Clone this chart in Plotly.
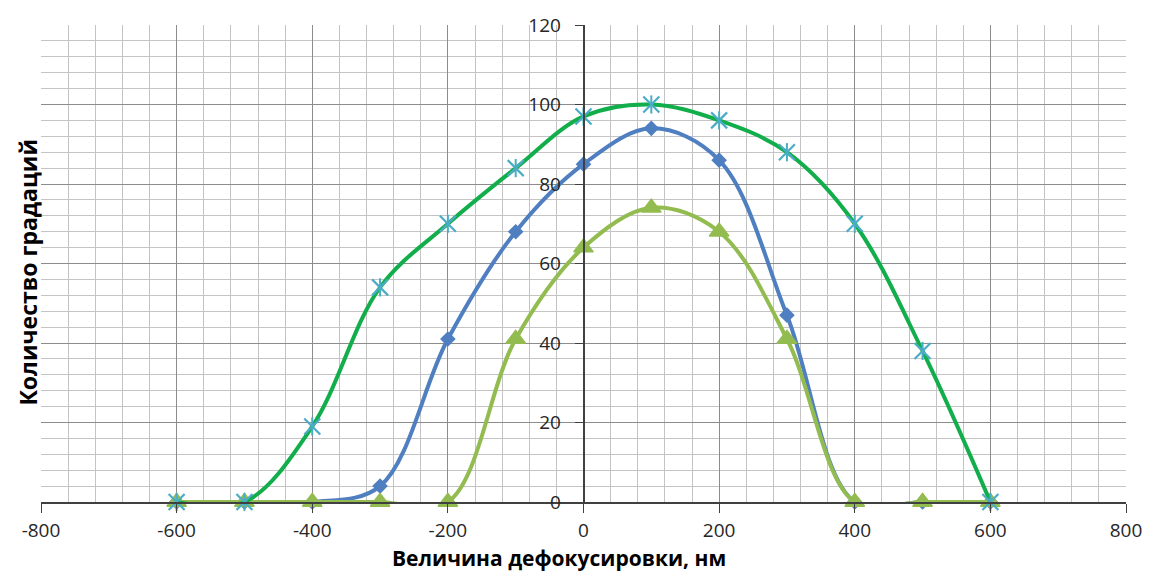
import plotly.graph_objects as go

defocus = [-600, -500, -400, -300, -200, -100, 0, 100, 200, 300, 400, 500, 600]
series_blue = [0, 0, 0, 4, 41, 68, 85, 94, 86, 47, 0, 0, 0]
series_lime = [0, 0, 0, 0, 0, 41, 64, 74, 68, 41, 0, 0, 0]
series_green = [0, 0, 19, 54, 70, 84, 97, 100, 96, 88, 70, 38, 0]

x_ticks = [-800, -600, -400, -200, 0, 200, 400, 600, 800]
y_ticks = [0, 20, 40, 60, 80, 100, 120]

FONT = "Open Sans"
STAR = "#4BACC6"

fig = go.Figure()
fig.add_trace(go.Scatter(
    x=defocus, y=series_blue, mode="lines+markers",
    line=dict(color="#4F7FC0", width=4, shape="spline", smoothing=1.0),
    marker=dict(symbol="diamond", size=12, color="#4F7FC0"),
    cliponaxis=False, showlegend=False))
fig.add_trace(go.Scatter(
    x=defocus, y=series_lime, mode="lines+markers",
    line=dict(color="#93BC50", width=4, shape="spline", smoothing=1.0),
    marker=dict(symbol="triangle-up", size=17, color="#93BC50",
                line=dict(color="#93BC50", width=1.5)),
    cliponaxis=False, showlegend=False))
fig.add_trace(go.Scatter(
    x=defocus, y=series_green, mode="lines+markers",
    line=dict(color="#12AE4B", width=4, shape="spline", smoothing=1.0),
    marker=dict(symbol="x-thin-open", size=16, color=STAR, line=dict(color=STAR, width=2.2)),
    cliponaxis=False, showlegend=False))
fig.add_trace(go.Scatter(
    x=defocus, y=series_green, mode="markers",
    marker=dict(symbol="line-ns-open", size=13, color=STAR, line=dict(color=STAR, width=2)),
    cliponaxis=False, showlegend=False))

fig.update_layout(
    width=1154, height=571,
    margin=dict(l=41, r=23, t=22, b=69),
    paper_bgcolor="white", plot_bgcolor="white",
    font=dict(family=FONT, size=19, color="#262626"),
    xaxis=dict(
        range=[-800, 800], tickvals=x_ticks, ticktext=[str(v) for v in x_ticks],
        showgrid=True, gridcolor="#8C8C8C", gridwidth=1,
        minor=dict(dtick=40, tick0=-800, showgrid=True, gridcolor="#C4C4C4", gridwidth=1),
        showline=True, linecolor="#404040", linewidth=1.5,
        ticks="outside", ticklen=9, tickcolor="#404040",
        ticklabelstandoff=1,
        zeroline=False, fixedrange=True,
        tickfont=dict(size=19, family=FONT),
    ),
    yaxis=dict(
        range=[0, 120], tickvals=y_ticks, ticktext=[str(v) for v in y_ticks],
        showgrid=True, gridcolor="#8C8C8C", gridwidth=1,
        minor=dict(dtick=4, tick0=0, showgrid=True, gridcolor="#C4C4C4", gridwidth=1),
        showline=True, linecolor="#404040", linewidth=1.5,
        ticks="outside", ticklen=8, tickcolor="#404040",
        ticklabelstandoff=10,
        anchor="free", position=0.5,
        zeroline=False, fixedrange=True,
        tickfont=dict(size=19, family=FONT),
    ),
    annotations=[
        dict(text="<b>Величина дефокусировки, нм</b>",
             x=(561 - 41) / 1090, xref="paper", y=-0.1165, yref="paper",
             xanchor="center", yanchor="middle", showarrow=False,
             font=dict(size=21, family=FONT, color="#000000")),
        dict(text="<b>Количество градаций</b>", xref="paper", yref="paper",
             x=-0.012, y=0.483, textangle=-90, showarrow=False,
             xanchor="center", yanchor="middle",
             font=dict(size=23, family=FONT, color="#000000")),
    ],
)

fig.write_html("out.html")
